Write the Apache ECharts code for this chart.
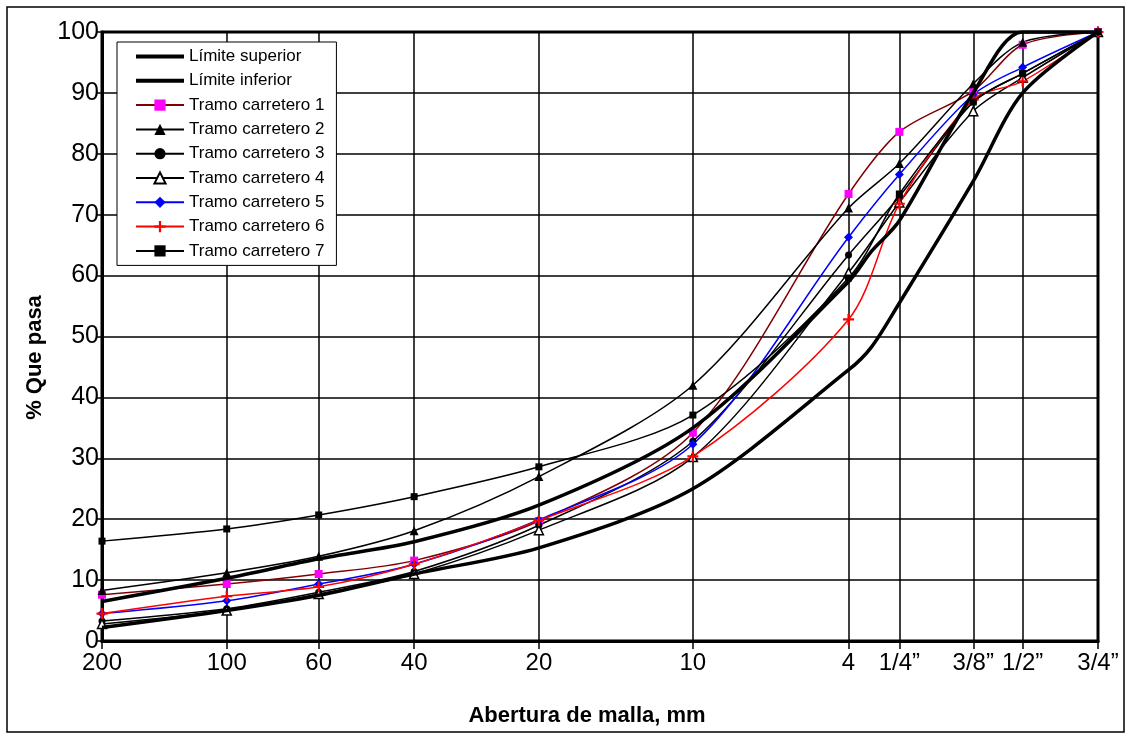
<!DOCTYPE html>
<html>
<head>
<meta charset="utf-8">
<title>Curvas granulométricas</title>
<script src="https://cdn.jsdelivr.net/npm/echarts@6/dist/echarts.min.js"></script>
<style>
  html, body { margin: 0; padding: 0; background: #fff; }
  #main { width: 1126px; height: 734px; }
</style>
</head>
<body>
<div id="main"></div>
<script>
// tamices (abertura en mm) y sus etiquetas
const sieveLabels = ['200', '100', '60', '40', '20', '10', '4', '1/4”', '3/8”', '1/2”', '3/4”'];
const sieveMm = [0.075, 0.15, 0.25, 0.425, 0.85, 2.0, 4.75, 6.3, 9.5, 12.5, 19.0];

// límites de la especificación (con un punto intermedio entre el 4 y 1/4")
const limitMm = [0.075, 0.15, 0.25, 0.425, 0.85, 2.0, 4.75, 5.4, 6.3, 9.5, 12.5, 19.0];
const limiteSuperior = [6.5, 10.3, 13.5, 16.3, 22.3, 35, 59, 64, 69, 90, 100, 100];
const limiteInferior = [2.2, 5.0, 7.5, 11.0, 15.3, 25, 44.5, 48.3, 55.5, 75.5, 90, 100];

// % que pasa por tramo carretero
const tramo1 = [7.6, 9.35, 11.0, 13.2, 19.7, 34.2, 73.4, 83.6, 90.3, 97.9, 100];
const tramo2 = [8.3, 11.2, 13.9, 18.1, 27.0, 42.0, 71.1, 78.4, 91.5, 98.3, 100];
const tramo3 = [3.3, 5.3, 8.0, 11.4, 19.0, 32.8, 63.4, 73.0, 88.5, 93.2, 100];
const tramo4 = [2.8, 5.0, 7.7, 11.0, 18.2, 30.2, 60.5, 72.0, 87.0, 92.5, 100];
const tramo5 = [4.5, 6.6, 9.35, 12.6, 19.9, 32.3, 66.3, 76.6, 89.7, 94.2, 100];
const tramo6 = [4.5, 7.35, 8.9, 12.6, 19.8, 30.3, 52.8, 71.8, 88.9, 91.9, 100];
const tramo7 = [16.4, 18.4, 20.7, 23.7, 28.6, 37.1, 59.6, 73.4, 88.5, 93.2, 100];

const FONT = '"Liberation Sans", Arial, sans-serif';
const pos = mm => Math.log10(mm); // eje de abertura en escala logarítmica
const pair = (mm, vals) => vals.map((v, i) => [pos(mm[i]), v]);
const tickPos = sieveMm.map(pos);

const plusPath = 'path://M4,0H6V4H10V6H6V10H4V6H0V4H4Z';
const thickBar = 'path://M0,0H48V4H0Z';

function tramo(name, values, lineColor, symbol, markColor, extra) {
  return Object.assign({
    name: name,
    type: 'line',
    data: pair(sieveMm, values),
    smooth: 0.3,
    symbol: symbol,
    symbolSize: 8,
    lineStyle: { color: lineColor, width: 1.5 },
    itemStyle: { color: markColor },
    z: 3
  }, extra || {});
}

const chart = echarts.init(document.getElementById('main'));

chart.setOption({
  backgroundColor: '#fff',
  animation: false,
  textStyle: { fontFamily: FONT },
  graphic: [{
    type: 'rect',
    shape: { x: 7, y: 7, width: 1117, height: 725 },
    style: { fill: null, stroke: '#000', lineWidth: 1.5 },
    silent: true,
    z: -1
  }],
  grid: {
    left: 102, right: 28, top: 32, bottom: 93,
    show: true, borderColor: '#000', borderWidth: 3
  },
  legend: {
    orient: 'vertical',
    left: 117, top: 42,
    padding: [6, 12, 6, 18],
    itemWidth: 48, itemHeight: 14, itemGap: 7.3,
    backgroundColor: '#fff',
    borderColor: '#000', borderWidth: 1,
    textStyle: { fontFamily: FONT, fontSize: 17, color: '#000' },
    data: [
      { name: 'Límite superior', icon: thickBar },
      { name: 'Límite inferior', icon: thickBar },
      'Tramo carretero 1', 'Tramo carretero 2', 'Tramo carretero 3', 'Tramo carretero 4',
      'Tramo carretero 5', 'Tramo carretero 6', 'Tramo carretero 7'
    ]
  },
  xAxis: {
    type: 'value',
    min: pos(0.075),
    max: pos(19),
    name: 'Abertura de malla, mm',
    nameLocation: 'middle',
    nameGap: 64,
    nameTextStyle: { fontFamily: FONT, fontSize: 22, fontWeight: 'bold', color: '#000', padding: [0, 26, 0, 0] },
    axisLine: { lineStyle: { color: '#000', width: 3 } },
    axisTick: { show: true, length: 8, customValues: tickPos, lineStyle: { color: '#000', width: 1.5 } },
    axisLabel: {
      customValues: tickPos,
      margin: 10,
      fontSize: 24, color: '#000', fontFamily: FONT,
      formatter: v => {
        const i = tickPos.findIndex(t => Math.abs(t - v) < 1e-6);
        return i >= 0 ? sieveLabels[i] : '';
      }
    },
    splitLine: { show: true, lineStyle: { color: '#000', width: 1.5 } }
  },
  yAxis: {
    type: 'value',
    min: 0, max: 100, interval: 10,
    name: '% Que pasa',
    nameLocation: 'middle',
    nameGap: 55,
    nameTextStyle: { fontFamily: FONT, fontSize: 22, fontWeight: 'bold', color: '#000', padding: [0, 42, 0, 0] },
    axisLine: { show: true, onZero: false, lineStyle: { color: '#000', width: 3 } },
    axisTick: { show: true, length: 6, lineStyle: { color: '#000', width: 1.5 } },
    axisLabel: { fontSize: 25, color: '#000', margin: 3, fontFamily: FONT },
    splitLine: { show: true, lineStyle: { color: '#000', width: 1.5 } }
  },
  series: [
    {
      name: 'Límite superior', type: 'line', data: pair(limitMm, limiteSuperior),
      smooth: 0.3, symbol: 'none', lineStyle: { color: '#000', width: 3.5 },
      itemStyle: { color: '#000' }, z: 4
    },
    {
      name: 'Límite inferior', type: 'line', data: pair(limitMm, limiteInferior),
      smooth: 0.3, symbol: 'none', lineStyle: { color: '#000', width: 3.5 },
      itemStyle: { color: '#000' }, z: 4
    },
    tramo('Tramo carretero 1', tramo1, '#800000', 'rect', '#ff00ff'),
    tramo('Tramo carretero 2', tramo2, '#000', 'triangle', '#000', { symbolSize: 9 }),
    tramo('Tramo carretero 3', tramo3, '#000', 'circle', '#000', { symbolSize: 7 }),
    tramo('Tramo carretero 4', tramo4, '#000', 'triangle', '#fff',
      { symbolSize: 9, itemStyle: { color: '#fff', borderColor: '#000', borderWidth: 1.5 } }),
    tramo('Tramo carretero 5', tramo5, '#0000ff', 'diamond', '#0000ff', { symbolSize: 9 }),
    tramo('Tramo carretero 6', tramo6, '#ff0000', plusPath, '#ff0000', { symbolSize: 11 }),
    tramo('Tramo carretero 7', tramo7, '#000', 'rect', '#000', { symbolSize: 7 })
  ]
});
</script>
</body>
</html>
